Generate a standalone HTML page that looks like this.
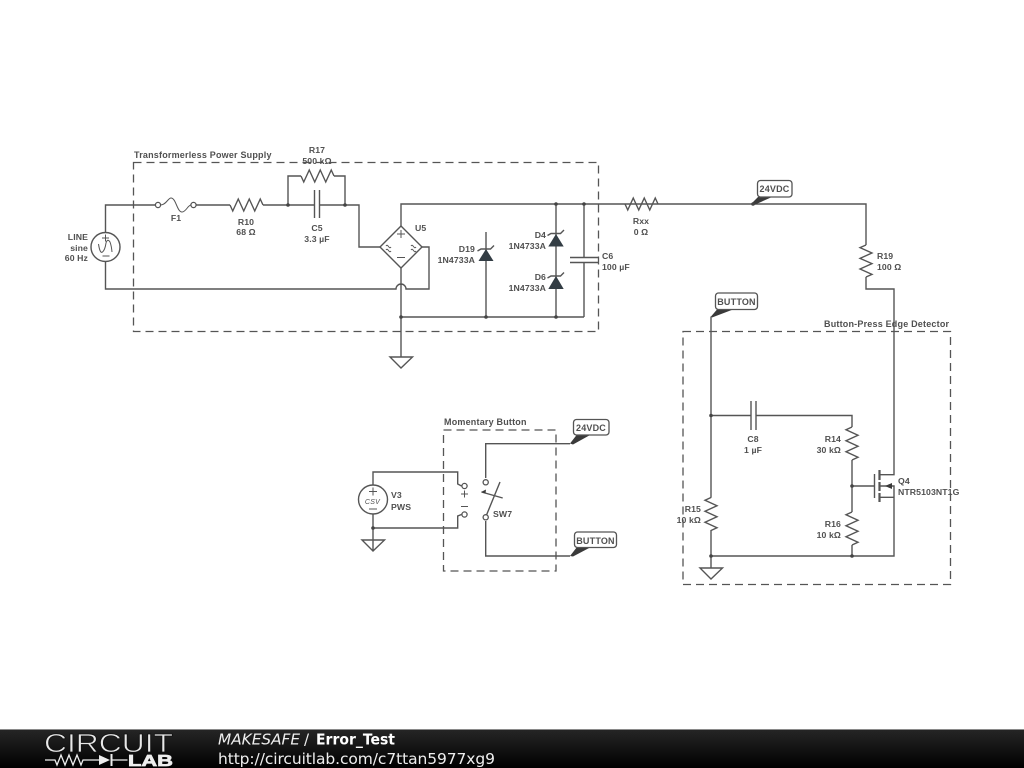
<!DOCTYPE html>
<html><head><meta charset="utf-8"><style>
html,body{margin:0;padding:0;background:#fff;width:1024px;height:768px;overflow:hidden}
svg{display:block}
.w{fill:none;stroke:#555;stroke-width:1.4}
.b{fill:none;stroke:#555;stroke-width:1.3;stroke-dasharray:8 5}
.t text{font:bold 8.7px "Liberation Sans",sans-serif;letter-spacing:.1px;fill:#505050}
.t text.h{font-size:9px;letter-spacing:.2px}
.m{text-anchor:middle}
.e{text-anchor:end}
.j{fill:#444;stroke:none}
.d{fill:#333d44;stroke:none}
.f{fill:#3a3a3a;stroke:none}
.l{fill:#fff;stroke:#555;stroke-width:1.3}
.s{stroke-width:1}
</style></head><body>
<svg width="1024" height="768" viewBox="0 0 1024 768" xmlns="http://www.w3.org/2000/svg">
<defs>
<linearGradient id="g" x1="0" y1="0" x2="0" y2="1"><stop offset="0" stop-color="#262626"/><stop offset="1" stop-color="#000"/></linearGradient>
<path id="r" class="w" d="M0 0L2.75 6L8.25-6L13.75 6L19.25-6L24.75 6L30.25-6L33 0"/>
</defs>
<g style="filter:blur(.3px)">
<rect class="b" x="133.500" y="162.500" width="465" height="169"/>
<rect class="b" x="443.500" y="430" width="112.500" height="141"/>
<rect class="b" x="683" y="331.500" width="267.500" height="253"/>
<!-- power supply -->
<path class="w" d="M105.500 232.500V205H155.500M196 205H230M263 205H314.500M319.500 205H359V247H380M288 205V176H301M334 176H345V205M105.500 261.500V289H396A5 5 0 0 1 406 289H429V247H422M401 226V204H658M401 268V357M401 317H584M584 204V257.500M584 262.500V317M556 204V317M486 232V317"/>
<use href="#r" x="230" y="205"/><use href="#r" x="301" y="176"/><use href="#r" x="625" y="204"/>
<path class="w s" d="M160.600 205C166 205 168 198 171 198C176 198 177 212 182 212C186 212 188 205 191 205"/>
<circle class="l" cx="158" cy="205" r="2.600"/><circle class="l" cx="193.500" cy="205" r="2.600"/>
<path class="w" d="M314.500 190V218M319.500 190V218M570 257.500H599M570 262.500H599"/>
<circle class="w" cx="105.500" cy="247" r="14.500"/>
<path class="w s" d="M98.500 244Q100 254 102.500 252Q105 250 106 243Q107.500 238 110 242Q111.500 246 112 252M102 238H109M105.500 234.500V241.500M102.500 256H109.500"/>
<path class="w" d="M401 226L422 247L401 268L380 247Z"/>
<path class="w s" d="M397 234H405M401 230V238M397 257.500H405M386 246C388 243 389 250 391 247M386 250C388 247 389 254 391 251M411 246C413 243 414 250 416 247M411 250C413 247 414 254 416 251"/>
<path class="d" d="M486 249L493.500 261H478.500ZM556 234L563.700 246.500H548.300ZM556 276L563.700 289H548.300Z"/>
<path class="w" d="M477.500 251L481 249H490.500L494 245.500M547.500 235.500L551 233.500H560.500L564 230M547.500 278L551 276H560.500L564 272.500"/>
<path class="w" d="M401 357H390L401 368L412.500 357H401"/>
<!-- right section -->
<path class="w" d="M658 204H866V245M866 277V289H894V474.700H880.500M711 316.500V497.700M711 530V568M711 415.500H751M756 415.500H852V427M852 460V512M852 545V556M711 556H894V486H880M880 497.300H894M852 486H874.500"/>
<path class="w" d="M751 401V430M756 401V430M874.500 474V498" />
<path class="w" style="stroke-width:2.200" d="M879.500 470V480M879.500 482V491M879.500 493V502"/>
<path class="f" d="M885 486L892 483V489Z"/>
<use href="#r" transform="translate(866,245) rotate(90) scale(.97,1)"/>
<use href="#r" transform="translate(852,427) rotate(90)"/>
<use href="#r" transform="translate(852,512) rotate(90)"/>
<use href="#r" transform="translate(711,497.500) rotate(90)"/>
<path class="w" d="M711 568H700L711 579L722.500 568H711"/>
<path class="f" d="M752 203L758 197L772 197L753 205.500ZM711 316.500L717 309.500L733 309.500L712 317.500Z"/>
<rect class="l" x="757.500" y="180.500" width="34.500" height="16.500" rx="3"/>
<rect class="l" x="715.500" y="293" width="42" height="16.500" rx="3"/>
<!-- momentary -->
<path class="w" d="M373 484.500V472H457.700V484L461.500 486M373 514V551M373 528H457.700V516L461.500 514.500M373 540H362L373 551L384.500 540H373M485.700 478V443.700H570M485.700 521V556H570M485.700 517L500 482M481.500 492L502.700 498"/>
<path class="f" d="M481 492L486 489.500L485.500 493.500Z"/>
<circle class="w" cx="373" cy="499.500" r="14.500"/>
<path class="w s" d="M369 491.500H377M373 487.500V495.500M369 509H377"/>
<circle class="l" cx="464.500" cy="486" r="2.600"/><circle class="l" cx="464.500" cy="514.500" r="2.600"/>
<circle class="l" cx="485.700" cy="482.300" r="2.600"/><circle class="l" cx="485.700" cy="517.300" r="2.600"/>
<path class="w s" d="M461 494H468M464.500 490.500V497.500M461 506.500H468"/>
<path class="f" d="M570 443.500L577 434.500L591 434.500L573 444.500ZM570 556L577 547L591 547L573 556.500Z"/>
<rect class="l" x="573.500" y="419.500" width="35.500" height="15.500" rx="3"/>
<rect class="l" x="574.500" y="532" width="42" height="15.500" rx="3"/>
<!-- junctions -->
<g class="j"><circle cx="288" cy="205" r="1.800"/><circle cx="345" cy="205" r="1.800"/><circle cx="556" cy="204" r="1.800"/><circle cx="584" cy="204" r="1.800"/><circle cx="401" cy="317" r="1.800"/><circle cx="486" cy="317" r="1.800"/><circle cx="556" cy="317" r="1.800"/><circle cx="373" cy="528" r="1.800"/><circle cx="711" cy="415.500" r="1.800"/><circle cx="852" cy="486" r="1.800"/><circle cx="711" cy="556" r="1.800"/><circle cx="852" cy="556" r="1.800"/><circle cx="753" cy="204" r="1.800"/></g>
<!-- text -->
<g class="t">
<text class="h" x="134" y="158">Transformerless Power Supply</text>
<text class="m" x="317" y="153">R17</text><text class="m" x="317" y="164">500 kΩ</text>
<text class="m" x="176" y="221">F1</text>
<text class="m" x="246" y="225">R10</text><text class="m" x="246" y="235">68 Ω</text>
<text class="m" x="317" y="231">C5</text><text class="m" x="317" y="242">3.3 µF</text>
<text class="e" x="88" y="240">LINE</text><text class="e" x="88" y="251">sine</text><text class="e" x="88" y="261">60 Hz</text>
<text x="415" y="231">U5</text>
<text class="e" x="475" y="252">D19</text><text class="e" x="475" y="263">1N4733A</text>
<text class="e" x="546" y="238">D4</text><text class="e" x="546" y="249">1N4733A</text>
<text class="e" x="546" y="280">D6</text><text class="e" x="546" y="291">1N4733A</text>
<text x="602" y="259">C6</text><text x="602" y="270">100 µF</text>
<text class="m" x="641" y="224">Rxx</text><text class="m" x="641" y="235">0 Ω</text>
<text class="m h" x="774.500" y="192">24VDC</text>
<text x="877" y="259">R19</text><text x="877" y="270">100 Ω</text>
<text class="m h" x="736.500" y="305">BUTTON</text>
<text class="h" x="824" y="327">Button-Press Edge Detector</text>
<text class="m" x="753" y="442">C8</text><text class="m" x="753" y="453">1 µF</text>
<text class="e" x="841" y="442">R14</text><text class="e" x="841" y="453">30 kΩ</text>
<text x="898" y="484">Q4</text><text x="898" y="495">NTR5103NT1G</text>
<text class="e" x="701" y="512">R15</text><text class="e" x="701" y="523">10 kΩ</text>
<text class="e" x="841" y="527">R16</text><text class="e" x="841" y="538">10 kΩ</text>
<text class="h" x="444" y="425">Momentary Button</text>
<text class="m h" x="591" y="431">24VDC</text><text class="m h" x="595.500" y="544">BUTTON</text>
<text x="391" y="498">V3</text><text x="391" y="510">PWS</text>
<text x="493" y="517">SW7</text>
<text class="m" x="372.500" y="504" style="font:italic 7px 'Liberation Sans',sans-serif;letter-spacing:.3px">CSV</text>
</g>
</g>
<!-- footer -->
<rect x="0" y="729" width="1024" height="39" fill="url(#g)"/>
<rect x="0" y="729" width="1024" height="1" fill="#8a8a8a"/>
<text x="44" y="752" textLength="129" lengthAdjust="spacingAndGlyphs" style="font:26px 'Liberation Sans',sans-serif;fill:#e8e8e8;stroke:#111;stroke-width:.7">CIRCUIT</text>
<path fill="none" stroke="#eee" stroke-width="1.300" d="M45 760H55L57 765L61 755L65 765L69 755L73 765L77 755L81 765L83 760H99M112 760H127.500"/>
<path fill="#eee" d="M99 755L110 760L99 765ZM110.500 754H112.500V766H110.500Z"/>
<text x="128" y="766" textLength="45" lengthAdjust="spacingAndGlyphs" style="font:bold 16px 'Liberation Sans',sans-serif;fill:#eee;stroke:#eee;stroke-width:.7">LAB</text>
<g style="font-family:'DejaVu Sans',sans-serif;font-size:15px;fill:#eee">
<text x="218" y="744.500" textLength="82" lengthAdjust="spacingAndGlyphs" font-style="italic">MAKESAFE</text>
<text x="304" y="744.500">/</text>
<text x="316" y="744.500" textLength="79" lengthAdjust="spacingAndGlyphs" font-weight="bold" fill="#fff">Error_Test</text>
<text x="218" y="764" textLength="277" font-size="15.500">http://circuitlab.com/c7ttan5977xg9</text>
</g>
</svg>
</body></html>
